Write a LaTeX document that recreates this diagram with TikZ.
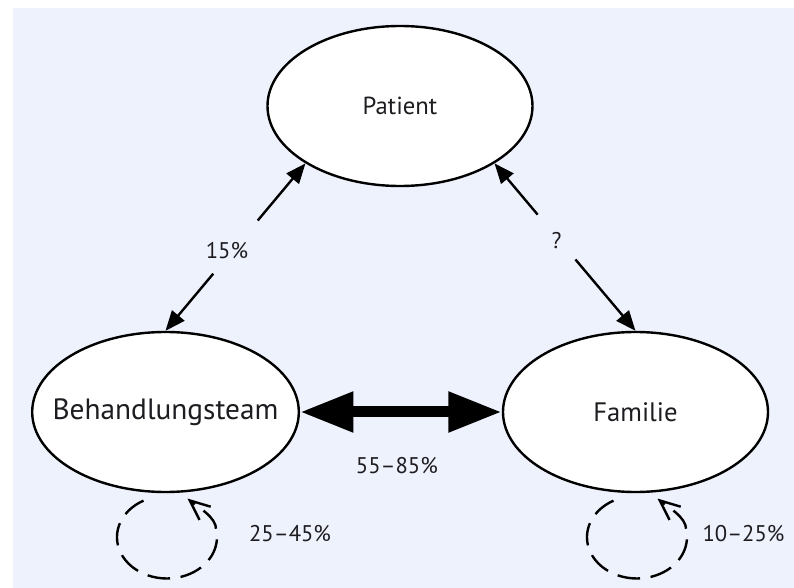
\documentclass[tikz,border=0pt]{standalone}
\usepackage{fontspec}
\setmainfont{PT Sans}
\usetikzlibrary{shapes.geometric,arrows.meta,positioning}

\definecolor{bgblue}{RGB}{238,242,252}
\definecolor{ink}{RGB}{30,28,32}

\begin{document}
\begin{tikzpicture}[x=1pt,y=1pt,on grid,
    font=\fontsize{17}{20}\selectfont, text=ink,
    state/.style={ellipse, draw, line width=1.8pt, fill=white,
        minimum width=198.75pt, minimum height=120pt, inner sep=0pt},
    arr/.style={line width=1.8pt, -{Triangle[length=15pt,width=12pt]}},
    pct/.style={inner sep=0pt},
    selfloop/.style={line width=1.8pt, dash pattern=on 17pt off 8pt,
        -{Straight Barb[length=15pt,width=13pt]}}]
    \useasboundingbox (0,0) rectangle (595.5,-441);
    \fill[bgblue] (9.75,-6) rectangle (595.5,-441);

    \node [state, font=\fontsize{18.5}{22}\selectfont] (patient) at (300,-79.5) {Patient};
    \node [state, font=\fontsize{22}{26}\selectfont, inner xsep=-14pt] (team) [below left=229.5pt and 175.875pt of patient] {Behandlungsteam};
    \node [state, font=\fontsize{20}{24}\selectfont] (familie) [right=352.5pt of team] {Familie};

    % Behandlungsteam <-> Familie
    \draw[line width=8.25pt, {Triangle[length=40pt,width=28.5pt]}-{Triangle[length=40pt,width=28.5pt]}] (team) -- (familie);
    \path (team) -- node[pct, xshift=-3pt, yshift=-40.5pt] (l5585) {55--85\%} (familie);

    % Patient <-> Behandlungsteam
    \path (team.north) -- coordinate[pos=.5] (m15) (patient.south west);
    \draw[arr, shorten <=26pt] (m15) -- (patient.south west);
    \draw[arr, shorten <=26pt] (m15) -- (team.north);
    \node[pct] (l15) at ([shift={(-6.4,-2.25)}]m15) {15\%};

    % Patient <-> Familie
    \path (familie.north) -- coordinate[pos=.56] (mq) (patient.south east);
    \draw[arr, shorten <=22pt] (mq) -- (patient.south east);
    \draw[arr, shorten <=22pt] (mq) -- (familie.north);
    \node[pct] (lq) at ([yshift=-3]mq) {?};

    % loops
    \draw[selfloop] ([shift={(-16.5,-5.6)}]team.south) arc[start angle=118, end angle=370, x radius=37.5, y radius=31]
        .. controls +(90:10) and +(-40:10) .. ([shift={(16.5,-4)}]team.south);
    \draw[selfloop] ([shift={(-16.5,-5.6)}]familie.south) arc[start angle=118, end angle=370, x radius=37.5, y radius=31]
        .. controls +(90:10) and +(-40:10) .. ([shift={(16.5,-4)}]familie.south);
    \node[pct] (l2545) at ([shift={(93.4,-30)}]team.south) {25--45\%};
    \node[pct] (l1025) at ([shift={(81,-30)}]familie.south) {10--25\%};
\end{tikzpicture}
\end{document}
